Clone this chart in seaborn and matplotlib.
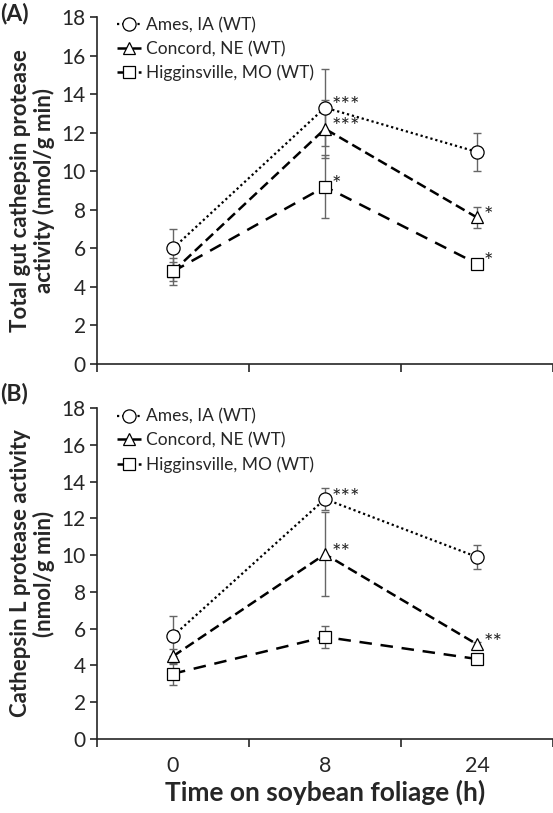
import matplotlib
matplotlib.use("Agg")
import matplotlib.pyplot as plt
import seaborn as sns
import numpy as np
import pandas as pd

sns.set_style("ticks")
plt.rcParams['font.family'] = ['Lato', 'DejaVu Sans']

times = ["0", "8", "24"]
series = ["Ames, IA (WT)", "Concord, NE (WT)", "Higginsville, MO (WT)"]

# Panel A: total gut cathepsin protease activity
a_ames = [6.0, 13.3, 11.0]
a_ames_err = [1.0, 2.0, 1.0]
a_concord = [4.8, 12.2, 7.6]
a_concord_err = [0.5, 1.5, 0.55]
a_higg = [4.8, 9.2, 5.2]
a_higg_err = [0.7, 1.65, 0.1]
a_stars = {"Ames, IA (WT)": ["", "***", ""],
           "Concord, NE (WT)": ["", "***", "*"],
           "Higginsville, MO (WT)": ["", "*", "*"]}

# Panel B: cathepsin L protease activity
b_ames = [5.6, 13.05, 9.9]
b_ames_err = [1.1, 0.6, 0.65]
b_concord = [4.5, 10.05, 5.15]
b_concord_err = [0.4, 2.3, 0.1]
b_higg = [3.55, 5.55, 4.35]
b_higg_err = [0.6, 0.6, 0.15]
b_stars = {"Ames, IA (WT)": ["", "***", ""],
           "Concord, NE (WT)": ["", "**", "**"],
           "Higginsville, MO (WT)": ["", "", ""]}

markers = {"Ames, IA (WT)": "o", "Concord, NE (WT)": "^", "Higginsville, MO (WT)": "s"}
lstyles = {"Ames, IA (WT)": (0, (1, 1.3)),
           "Concord, NE (WT)": (0, (4, 2)),
           "Higginsville, MO (WT)": (0, (5, 3.5))}

def make_df(vals, errs):
    rows = []
    for s, v, e in zip(series, vals, errs):
        for i, t in enumerate(times):
            rows.append({"series": s, "pos": i, "time": t, "value": v[i], "err": e[i]})
    return pd.DataFrame(rows)

dfA = make_df([a_ames, a_concord, a_higg], [a_ames_err, a_concord_err, a_higg_err])
dfB = make_df([b_ames, b_concord, b_higg], [b_ames_err, b_concord_err, b_higg_err])

fig = plt.figure(figsize=(5.53, 8.13), dpi=100)
axA = fig.add_axes([97/553, 1-364/813, 1-97/553, (364-17)/813])
axB = fig.add_axes([97/553, 1-739/813, 1-97/553, (739-408)/813])

def draw(ax, df, stars, ylabel, show_xlabels):
    for s in series:
        d = df[df.series == s]
        ax.errorbar(d.pos, d.value, yerr=d.err, fmt='none', ecolor='#666666',
                    elinewidth=1.0, capsize=3, capthick=1.0, zorder=2)
    for s in series:
        d = df[df.series == s]
        sns.lineplot(data=d, x="pos", y="value", ax=ax, color='black',
                     marker=markers[s], markersize=9 if markers[s] != 'o' else 9.5,
                     mfc='white', mec='black', mew=0.9,
                     linestyle=lstyles[s], linewidth=1.8 if s != "Ames, IA (WT)" else 1.6,
                     label=s, zorder=3)
        for i, st in enumerate(stars[s]):
            if st:
                ax.annotate(st, (d.pos.iloc[i], d.value.iloc[i]), xytext=(5, 1),
                            textcoords='offset points', ha='left', va='center',
                            fontsize=16, color='#222222')
    ax.set_xlim(-0.5, 2.5)
    ax.set_ylim(0, 18)
    ax.set_yticks(np.arange(0, 19, 2))
    ax.set_xticks([-0.5, 0.5, 1.5, 2.5])
    ax.set_xticklabels([])
    ax.set_xticks([0, 1, 2], minor=True)
    if show_xlabels:
        ax.set_xticklabels(times, minor=True)
    ax.tick_params(axis='x', which='minor', length=0, labelsize=15.5, pad=12)
    ax.tick_params(axis='x', which='major', length=6, width=1.2, direction='out')
    ax.tick_params(axis='y', length=5, width=1.2, labelsize=15, pad=3)
    for sp in ['top', 'right']:
        ax.spines[sp].set_visible(False)
    for sp in ['left', 'bottom']:
        ax.spines[sp].set_linewidth(1.2)
    ax.set_ylabel(ylabel, fontsize=16, fontweight='bold', labelpad=5, linespacing=1.1)
    ax.set_xlabel("")
    ax.legend(loc='upper left', bbox_to_anchor=(0.02, 1.03), frameon=False,
              fontsize=12.5, handlelength=1.4, handletextpad=0.3,
              labelspacing=0.45, borderaxespad=0.2)

draw(axA, dfA, a_stars, "Total gut cathepsin protease\nactivity (nmol/g min)", False)
draw(axB, dfB, b_stars, "Cathepsin L protease activity\n(nmol/g min)", True)
axB.set_xlabel("Time on soybean foliage (h)", fontsize=19, fontweight='bold', labelpad=3)

fig.text(0.0, 1-14/813, "(A)", fontsize=16.5, fontweight='bold', va='center', ha='left')
fig.text(0.0, 1-393/813, "(B)", fontsize=16.5, fontweight='bold', va='center', ha='left')

fig.savefig("out.png", dpi=100)
